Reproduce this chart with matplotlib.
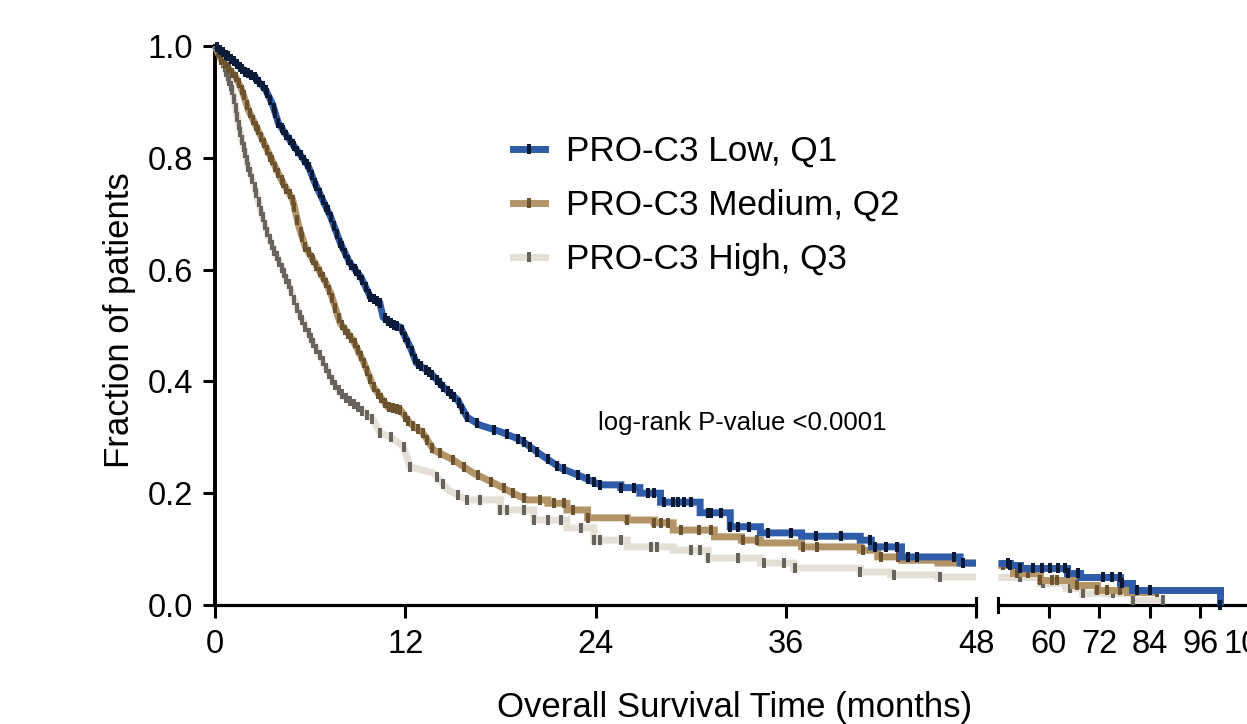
import numpy as np
import matplotlib
matplotlib.use("Agg")
import matplotlib.pyplot as plt
from matplotlib.lines import Line2D

plt.rcParams['font.family'] = ['Liberation Sans', 'DejaVu Sans']

# survival curves (months, fraction surviving)
low_t = [0, 0.6, 1.3, 1.9, 2.5, 3.2, 3.6, 4.0, 4.7, 5.3, 5.9, 6.3, 7.0, 7.3, 7.9, 8.5,
         9.2, 9.8, 10.4, 10.6, 11.1, 11.7, 12.3, 12.7, 13.6, 14.4, 15.3, 15.9, 16.7,
         18.0, 19.3, 20.5, 21.8, 23.1, 24.3, 25.6, 26.8, 28.1, 30.6, 32.5, 34.4, 37.0,
         40.7, 41.4, 43.3, 47.0, 50.8, 53.2, 64.4, 67.5, 77.0, 79.8, 100.6]
low_s = [1.0, .987, .97, .954, .945, .921, .898, .862, .832, .809, .784, .755, .712,
         .694, .648, .612, .587, .551, .54, .515, .504, .497, .462, .433, .415, .39,
         .367, .336, .322, .31, .295, .27, .245, .23, .215, .21, .20, .184, .165, .14,
         .129, .123, .116, .104, .086, .075, .072, .066, .057, .050, .039, .027, 0.0]
low_end = 100.6

med_t = [0, 0.4, 1.3, 1.7, 2.1, 2.5, 3.0, 3.6, 4.2, 4.9, 5.3, 5.7, 6.3, 7.0, 7.3, 7.9,
         8.7, 9.4, 10.0, 10.9, 11.7, 12.3, 13.1, 13.8, 15.0, 16.3, 17.6, 18.8, 19.7,
         21.0, 22.2, 23.5, 26.0, 27.7, 28.9, 31.5, 33.2, 34.4, 37.0, 40.7, 41.8, 43.3,
         45.6, 48.0, 51.5, 57.9, 65.7, 71.4, 78.6]
med_s = [1.0, .975, .945, .921, .886, .862, .832, .796, .76, .725, .676, .64, .612,
         .576, .558, .504, .474, .433, .39, .354, .349, .325, .308, .277, .26, .236,
         .218, .2, .188, .182, .17, .156, .152, .147, .134, .122, .116, .111, .104,
         .098, .086, .08, .075, .072, .057, .045, .036, .027, .023]
med_end = 86.0

high_t = [0, 0.3, 0.6, 1.1, 1.4, 1.7, 2.1, 2.5, 3.0, 3.4, 4.0, 4.7, 5.4, 6.2, 7.3, 7.9,
          9.0, 10.0, 10.4, 11.1, 11.9, 12.3, 13.8, 14.7, 15.9, 18.0, 20.1, 22.2, 23.9,
          26.0, 28.9, 31.1, 34.4, 36.5, 40.7, 42.6, 45.6, 58.0, 64.0, 68.0, 80.0]
high_s = [1.0, .987, .962, .921, .873, .832, .784, .748, .694, .658, .617, .57, .515,
          .469, .408, .379, .354, .331, .308, .3, .283, .247, .236, .206, .188, .17,
          .152, .138, .116, .104, .098, .084, .075, .066, .059, .054, .05, .039, .03,
          .021, .009]
high_end = 87.1

# early parts are many tiny steps, drawn as a smooth trace up to these months
smooth_until = [24.3, 19.7, 15.9]

# censored observations (tick marks)
low_cens = [0.1, 0.3, 0.5, 0.7, 0.8, 1.0, 1.2, 1.4, 1.6, 1.7, 1.9, 2.1, 2.3, 2.5, 2.6,
            2.8, 3.0, 3.2, 3.3, 3.5, 3.7, 3.8, 4.0, 4.2, 4.3, 4.5, 4.7, 4.9, 5.0, 5.2,
            5.4, 5.6, 5.8, 5.9, 6.1, 6.3, 6.4, 6.6, 6.8, 7.0, 7.1, 7.3, 7.5, 7.7, 7.9,
            8.0, 8.2, 8.4, 8.6, 8.8, 8.9, 9.1, 9.3, 9.5, 9.7, 9.8, 10.0, 10.2, 10.4,
            10.7, 10.9, 11.1, 11.3, 11.5, 11.8, 12.0, 12.2, 12.4, 12.6, 12.8, 13.0,
            13.3, 13.5, 13.7, 14.0, 14.2, 14.4, 14.7, 14.9, 15.1, 15.4, 15.6, 15.9,
            16.5, 17.6, 18.4, 19.1, 19.5, 19.9, 20.3, 21.0, 21.6, 22.0, 22.9, 23.5,
            23.9, 24.3, 25.6, 26.4, 27.3, 27.7, 28.3, 28.9, 29.2, 29.6, 30.0, 31.1,
            31.3, 31.9, 32.5, 33.0, 33.7, 34.9, 36.3, 37.9, 39.5, 41.3, 41.6, 42.3,
            43.0, 43.7, 44.3, 46.6, 47.2, 50.4, 50.8, 53.2, 56.3, 58.4, 60.3, 62.2,
            63.9, 64.6, 67.0, 72.9, 75.0, 76.9, 77.4, 80.9, 84.0, 100.6]
med_cens = [0.2, 0.4, 0.6, 0.8, 0.9, 1.1, 1.3, 1.5, 1.7, 1.8, 2.0, 2.2, 2.4, 2.6, 2.7,
            2.9, 3.1, 3.3, 3.5, 3.6, 3.8, 4.0, 4.2, 4.3, 4.5, 4.7, 4.9, 5.0, 5.2, 5.4,
            5.5, 5.7, 5.9, 6.1, 6.2, 6.4, 6.6, 6.8, 7.0, 7.2, 7.4, 7.6, 7.8, 8.0, 8.2,
            8.4, 8.6, 8.8, 9.0, 9.2, 9.4, 9.6, 9.8, 10.0, 10.3, 10.5, 10.7, 11.0, 11.2,
            11.5, 11.7, 12.0, 12.2, 12.5, 12.8, 13.1, 13.4, 13.7, 14.2, 15.0, 15.7,
            16.6, 17.4, 18.2, 18.8, 19.5, 20.5, 21.4, 22.0, 22.6, 23.5, 26.0, 27.7,
            28.1, 28.6, 29.4, 30.5, 31.3, 33.3, 34.2, 37.1, 38.0, 40.9, 42.0, 43.1,
            49.2, 52.5, 55.1, 58.0, 60.8, 62.0, 66.7, 71.5, 73.8, 76.9, 85.7]
high_cens = [0.1, 0.2, 0.3, 0.4, 0.5, 0.6, 0.7, 0.8, 0.9, 1.0, 1.1, 1.2, 1.3, 1.4, 1.5,
             1.6, 1.7, 1.8, 1.9, 2.0, 2.1, 2.2, 2.35, 2.5, 2.6, 2.75, 2.9, 3.0, 3.15,
             3.3, 3.45, 3.6, 3.75, 3.9, 4.05, 4.2, 4.35, 4.5, 4.65, 4.8, 5.0, 5.2,
             5.35, 5.5, 5.7, 5.9, 6.05, 6.2, 6.4, 6.6, 6.8, 7.0, 7.2, 7.4, 7.6, 7.8,
             8.0, 8.25, 8.5, 8.75, 9.0, 9.3, 9.6, 9.9, 10.4, 11.1, 11.9, 12.3, 14.0,
             14.4, 15.3, 15.9, 16.7, 18.0, 18.4, 19.5, 20.1, 21.0, 21.8, 23.1, 23.9,
             24.3, 25.6, 27.5, 27.9, 30.0, 30.6, 31.1, 33.0, 34.6, 35.9, 36.6, 40.7,
             42.8, 45.7, 53.2, 58.7, 65.1, 68.2, 75.3, 80.0, 87.1]

labels = ['PRO-C3 Low, Q1', 'PRO-C3 Medium, Q2', 'PRO-C3 High, Q3']
line_colors = ['#2f5ca9', '#b29467', '#e5e0d5']
mark_colors = ['#0b1a38', '#6c5330', '#67645f']

curves = [
    (low_t, low_s, low_end, low_cens),
    (med_t, med_s, med_end, med_cens),
    (high_t, high_s, high_end, high_cens),
]


def trace(t, s, t_end, t_smooth):
    xs, ys = [], []
    for i in range(len(t)):
        if t[i] > t_smooth:
            xs.append(t[i])
            ys.append(s[i - 1])
        xs.append(t[i])
        ys.append(s[i])
    xs.append(t_end)
    ys.append(s[-1])
    return np.array(xs), np.array(ys)


def cut(xs, ys, lo, hi):
    # part of the trace between lo and hi, for one side of the axis break
    y_lo = ys[xs <= lo][-1]
    if hi >= xs[-1]:
        keep = xs > lo
        return np.concatenate([[lo], xs[keep]]), np.concatenate([[y_lo], ys[keep]])
    keep = (xs > lo) & (xs < hi)
    y_hi = ys[xs < hi][-1]
    return (np.concatenate([[lo], xs[keep], [hi]]),
            np.concatenate([[y_lo], ys[keep], [y_hi]]))


W, H = 1247, 724
fig = plt.figure(figsize=(W / 100, H / 100), dpi=100)
ax1 = fig.add_axes([215 / W, 1 - 605 / H, (976 - 215) / W, (605 - 46) / H])
ax2 = fig.add_axes([998 / W, 1 - 605 / H, (1251 - 998) / W, (605 - 46) / H])

lw = 5.0
for k in (2, 1, 0):
    t, s, t_end, cens = curves[k]
    xs, ys = trace(t, s, t_end, smooth_until[k])
    cens = np.array(cens)
    cs = np.interp(cens, xs, ys)
    for ax, lo, hi in [(ax1, 0, 48), (ax2, 48, 110)]:
        x, y = cut(xs, ys, lo, hi)
        ax.plot(x, y, color=line_colors[k], lw=lw, solid_capstyle='butt',
                solid_joinstyle='miter', clip_on=False, zorder=3 + (2 - k))
        m = (cens >= lo) & (cens <= hi)
        ax.plot(cens[m], cs[m], ls='none', marker='|', markersize=6.8,
                mew=2.9, color=mark_colors[k], clip_on=False, zorder=3.5 + (2 - k))

for ax in (ax1, ax2):
    ax.set_ylim(0, 1)
    for sp in ('top', 'right'):
        ax.spines[sp].set_visible(False)
    ax.spines['bottom'].set_linewidth(2.3)
    ax.tick_params(axis='x', direction='out', length=9, width=2.2, pad=8,
                   labelsize=23.5)

ax1.set_xlim(0, 48)
ax1.set_xticks([0, 12, 24, 36, 48])
ax1.spines['left'].set_linewidth(2.8)
ax1.set_yticks([0, 0.2, 0.4, 0.6, 0.8, 1.0])
ax1.set_yticklabels(['0.0', '0.2', '0.4', '0.6', '0.8', '1.0'])
ax1.tick_params(axis='y', direction='out', length=9, width=2.2, pad=7,
                labelsize=23.5)

ax2.set_xlim(48, 108)
ax2.set_xticks([60, 72, 84, 96, 108])
ax2.spines['left'].set_visible(False)
ax2.set_yticks([])

# caps at the axis break
ax1.plot([48, 48], [-0.012, 0.012], color='black', lw=2.2, clip_on=False)
ax2.plot([48, 48], [-0.012, 0.012], color='black', lw=2.2, clip_on=False)

handles = [Line2D([], [], color=line_colors[k], lw=lw, marker='|', markersize=6.8,
                  mew=2.9, mec=mark_colors[k]) for k in range(3)]
fig.legend(handles, labels, loc='upper left', bbox_to_anchor=(513 / W, 1 - 135 / H),
           frameon=False, fontsize=25.3, handlelength=0.92, handletextpad=0.58,
           labelspacing=0.6, borderpad=0, borderaxespad=0, numpoints=1)

fig.text(598 / W, 1 - 423 / H, 'log-rank P-value <0.0001', fontsize=18.5,
         va='center', ha='left')
fig.text(120 / W, 1 - 320 / H, 'Fraction of patients', fontsize=25, rotation=90,
         va='center', ha='center')
fig.text(735 / W, 1 - 707 / H, 'Overall Survival Time (months)', fontsize=25,
         va='center', ha='center')

fig.savefig('out.png', dpi=100)
